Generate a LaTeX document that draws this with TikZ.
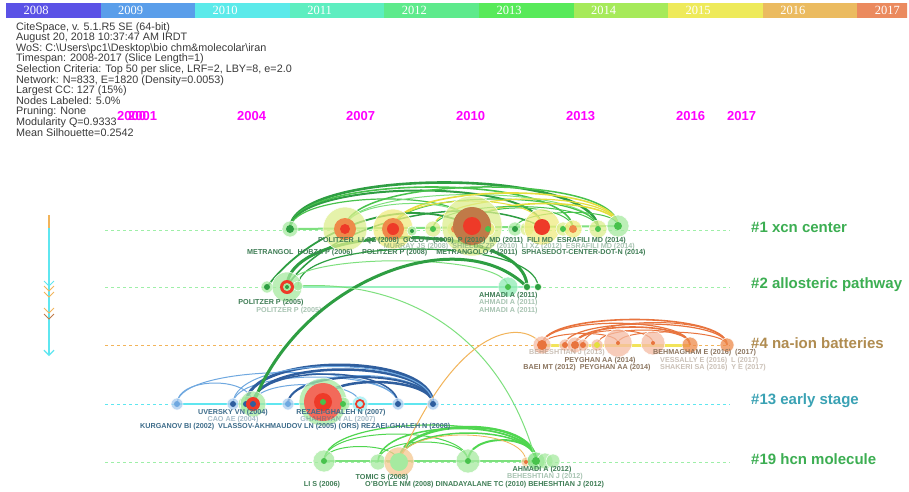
\documentclass[tikz,border=0pt]{standalone}
\usepackage{fontspec}
\setmainfont{Liberation Serif}
\setsansfont{Liberation Sans}
\usetikzlibrary{arrows.meta, backgrounds}

% year bar
\definecolor{yr2008}{HTML}{5B52E6}
\definecolor{yr2009}{HTML}{5A9EEA}
\definecolor{yr2010}{HTML}{5CEAEA}
\definecolor{yr2011}{HTML}{5EEEC0}
\definecolor{yr2012}{HTML}{5EEA8C}
\definecolor{yr2013}{HTML}{58EA5A}
\definecolor{yr2014}{HTML}{A6EA5A}
\definecolor{yr2015}{HTML}{EEEA5A}
\definecolor{yr2016}{HTML}{EBBB60}
\definecolor{yr2017}{HTML}{EB8A5E}
% text
\definecolor{infoGray}{HTML}{3A3A3A}
\definecolor{yearPink}{HTML}{FF00FF}
\definecolor{labG}{HTML}{3F7D55}
\definecolor{labB}{HTML}{3D6C8A}
\definecolor{labO}{HTML}{8C7660}
\definecolor{clG}{HTML}{3CAE52}
\definecolor{clO}{HTML}{B08C50}
\definecolor{clC}{HTML}{3AA2B4}
% nodes
\definecolor{haloG}{HTML}{A6EAA0}
\definecolor{haloYG}{HTML}{DDEE8E}
\definecolor{haloY}{HTML}{F0EC80}
\definecolor{haloMint}{HTML}{8EEBB4}
\definecolor{haloS}{HTML}{F5BCA4}
\definecolor{haloO}{HTML}{F5C890}
\definecolor{haloLB}{HTML}{A8CCF0}
\definecolor{haloC}{HTML}{9CEEF2}
\definecolor{ringO}{HTML}{EE8A4A}
\definecolor{coreR}{HTML}{EE3A28}
\definecolor{coreRL}{HTML}{F26A5A}
\definecolor{coreBr}{HTML}{C07A48}
% links
\definecolor{arcDG}{HTML}{2E9E42}
\definecolor{arcG}{HTML}{48C24C}
\definecolor{arcLG}{HTML}{7EE07E}
\definecolor{arcBr}{HTML}{50D650}
\definecolor{arcY}{HTML}{E4DE3E}
\definecolor{arcO}{HTML}{E8743E}
\definecolor{arcOr}{HTML}{F2B45A}
\definecolor{arcB}{HTML}{2F5E9E}
\definecolor{arcLB}{HTML}{6FA8E0}
\definecolor{lineG}{HTML}{9EEFA8}
\definecolor{lineMint}{HTML}{9AF0C0}
\definecolor{lineY}{HTML}{F2E45A}
\definecolor{lineC}{HTML}{5FE6F0}

\begin{document}
\begin{tikzpicture}[
    x=1pt, y=-1pt,
    halo/.style={circle, inner sep=0pt, fill=#1, fill opacity=0.75, draw=white, line width=0.5pt},
    core/.style={circle, inner sep=0pt, fill=#1},
    yearbox/.style={anchor=west, text=white, font=\fontsize{12.5}{12.5}\selectfont},
    yearmark/.style={anchor=west, inner sep=0pt, text=yearPink, font=\sffamily\bfseries\fontsize{13}{13}\selectfont},
    timeline/.style={#1, line width=0.8pt, dash pattern=on 3pt off 3pt},
    trunk/.style={#1, line width=2pt},
    cluster/.style={anchor=west, inner sep=0pt, text=#1, font=\sffamily\bfseries\fontsize{15}{15}\selectfont},
    author/.style={inner sep=0pt, text=#1, font=\sffamily\bfseries\fontsize{7.2}{7.2}\selectfont},
    faded/.style={text opacity=0.45}
    ]
    \useasboundingbox (0,0) rectangle (909,491);
    % year bar
    \begin{scope}
        \clip (0,0) rectangle (907,20);
        \foreach \i/\yr in {0/2008,1/2009,2/2010,3/2011,4/2012,5/2013,6/2014,7/2015,8/2016,9/2017} {
            \fill[yr\yr] (6+94.6*\i,3) rectangle ++(94.6,15);
            \node[yearbox] (bar\yr) at (6+94.6*\i+14,10.5) {\yr};
        }
    \end{scope}
    % header
    \node[anchor=north west, align=left, inner sep=0pt, text=infoGray,
          font=\sffamily\fontsize{10.8}{10.6}\selectfont] (info) at (16,22)
        {CiteSpace, v. 5.1.R5 SE (64-bit)\\
         August 20, 2018 10:37:47 AM IRDT\\
         WoS: C:\textbackslash Users\textbackslash pc1\textbackslash Desktop\textbackslash bio chm\&molecolar\textbackslash iran\\
         Timespan: 2008-2017 (Slice Length=1)\\
         Selection Criteria: Top 50 per slice, LRF=2, LBY=8, e=2.0\\
         Network: N=833, E=1820 (Density=0.0053)\\
         Largest CC: 127 (15\%)\\
         Nodes Labeled: 5.0\%\\
         Pruning: None\\
         Modularity Q=0.9333\\
         Mean Silhouette=0.2542};
    % time marks
    \foreach \x/\yr in {117/2000,128/2001,237/2004,346/2007,456/2010,566/2013,676/2016,727/2017} {
        \node[yearmark] (mark\yr) at (\x,116) {\yr};
    }
    % cluster labels
    \node[cluster=clG] (cl1) at (751,227) {\#1 xcn center};
    \node[cluster=clG] (cl2) at (751,285) {\#2 allosteric pathway};
    \node[cluster=clO] (cl4) at (751,343) {\#4 na-ion batteries};
    \node[cluster=clC] (cl13) at (751,401) {\#13 early stage};
    \node[cluster=clG] (cl19) at (751,459) {\#19 hcn molecule};

    % nodes
    % row 1
    \foreach \n/\x/\y/\r/\c in {a1/290/229/8/haloG, a2/345/229/22/haloYG, a3/393/229/20/haloY,
        a4/412/231/5/haloG, a5/433/229/8/haloYG, a6/455/229/8/haloY, a7/472/226/30/haloYG,
        a8/488/229/7/haloY, a9/515/229/7/haloG, a10/527/229/7/haloYG, a11/542/227/18/haloY,
        a12/563/229/7/haloYG, a13/573/229/9/haloY, a14/598/229/9/haloYG, a15/618/226/11/haloG} {
        \node[halo=\c, minimum size={2*\r pt}] (\n) at (\x,\y) {};
    }
    % row 2
    \foreach \n/\x/\y/\r/\c in {b1/267/287/6/haloG, b2/287/287/15/haloG, b3/298/286/5/haloG,
        b4/508/287/10/haloMint, b5/527/287/4/haloG, b6/538/287/4/haloG} {
        \node[halo=\c, minimum size={2*\r pt}] (\n) at (\x,\y) {};
    }
    % row 4
    \foreach \n/\x/\y/\r/\c in {d1/542/345/9/haloS, d2/565/345/6/haloS, d3/575/345/8/haloS,
        d4/583/345/6/haloS, d5/597/345/6/haloS, d6/618/343/14/haloS, d7/653/343/12/haloS,
        d8/690/345/8/ringO, d9/727/345/7/ringO} {
        \node[halo=\c, minimum size={2*\r pt}] (\n) at (\x,\y) {};
    }
    % row 13
    \foreach \n/\x/\y/\r/\c in {e1/177/404/6/haloLB, e2/233/404/6/haloLB, e3/246/404/8/haloG,
        e4/253/404/13/haloG, e5/288/404/6/haloLB, e6/323/402/24/haloG, e7/343/404/7/haloG,
        e8/360/404/8/haloC, e9/398/404/6/haloLB, e10/433/404/6/haloLB} {
        \node[halo=\c, minimum size={2*\r pt}] (\n) at (\x,\y) {};
    }
    % row 19
    \foreach \n/\x/\y/\r/\c in {f1/324/461/11/haloG, f2/378/462/8/haloG, f3/399/462/15/haloO,
        f4/468/461/12/haloG, f5/526/462/5/haloO, f6/536/461/9/arcLG, f7/545/461/8/haloG,
        f8/553/461/7/haloG} {
        \node[halo=\c, minimum size={2*\r pt}] (\n) at (\x,\y) {};
    }
    % rings inside
    \foreach \n/\r/\c in {a1/4/arcDG, a2/11/ringO, a2/5/coreR, a3/11/ringO, a3/6/coreR,
        a4/2/arcDG, a5/3/arcG, a6/4/ringO, a7/19/coreBr, a7/9/coreR, a8/3/arcG, a9/3/arcDG,
        a11/8/coreR, a12/3/arcG, a13/4/ringO, a14/3/arcG, a15/4/arcG,
        b1/3/arcDG, b2/7/coreR, b2/4/haloG, b2/2/arcDG, b4/3/arcG, b5/3/arcDG, b6/3/arcDG,
        d1/5/arcO, d2/3/arcO, d3/4/arcO, d4/3/arcO, d5/3/arcY, d6/2/arcO, d7/2/arcO,
        e1/3/arcLB, e2/3/arcB, e3/3/arcB, e4/7/coreR, e4/3/arcB, e5/3/arcLB, e6/19/coreRL,
        e6/9/coreR, e6/3/arcG, e7/3/arcG, e8/5/coreR, e8/3/haloC, e9/3/arcB, e10/3/arcB,
        f1/3/arcG, f3/9/haloG, f4/3/arcG, f5/2/arcO, f6/4/arcG} {
        \node[core=\c, minimum size={2*\r pt}] (\n-\r) at (\n) {};
    }

    % author labels
    % row 1
    \node[author=labG, anchor=west] (lab1a) at (318,241)
        {POLITZER \ LI QZ (2008) \ GOLO P (2009) \ P (2010) \ MD (2011) \ FILI MD \ ESRAFILI MD (2014)};
    \node[author=labG, anchor=east, faded] (lab1b) at (635,247)
        {MURRAY JS (2008) \ SHIELDS ZP (2010) \ LI XZ (2012) \ ESRAFILI MD (2014)};
    \node[author=labG, anchor=west] (lab1c) at (247,253)
        {METRANGOL \ HOBZA P (2006) \quad POLITZER P (2008) \quad METRANGOLO P (2011) \ SPHASEDOT-CENTER-DOT-N (2014)};
    % row 2
    \node[author=labG] (lab2a) at (271,303) {POLITZER P (2005)};
    \node[author=labG, faded] (lab2b) at (289,311) {POLITZER P (2005)};
    \node[author=labG, anchor=west] (lab2c) at (479,296) {AHMADI A (2011)};
    \node[author=labG, anchor=west, faded] (lab2d) at (479,303) {AHMADI A (2011)};
    \node[author=labG, anchor=west, faded] (lab2e) at (479,311) {AHMADI A (2011)};
    % row 4
    \node[author=labO, faded] (lab4a) at (567,353) {BEHESHTIAN J (2013)};
    \node[author=labO] (lab4b) at (600,361) {PEYGHAN AA (2014)};
    \node[author=labO] (lab4c) at (587,368) {BAEI MT (2012) \ PEYGHAN AA (2014)};
    \node[author=labO, anchor=west] (lab4d) at (653,353) {BEHMAGHAM E (2016) \ (2017)};
    \node[author=labO, anchor=west, faded] (lab4e) at (660,361) {VESSALLY E (2016) \ L (2017)};
    \node[author=labO, anchor=west, faded] (lab4f) at (660,368) {SHAKERI SA (2016) \ Y E (2017)};
    % row 13
    \node[author=labB] (lab13a) at (233,413) {UVERSKY VN (2004)};
    \node[author=labB, faded] (lab13b) at (233,420) {CAO AE (2004)};
    \node[author=labB] (lab13c) at (341,413) {REZAEI-GHALEH N (2007)};
    \node[author=labB, faded] (lab13d) at (338,420) {GHAHRYAN AL (2007)};
    \node[author=labB, anchor=west] (lab13e) at (140,427)
        {KURGANOV BI (2002) \ VLASSOV-AKHMAUDOV LN (2005) (ORS) REZAEI-GHALEH N (2008)};
    % row 19
    \node[author=labG] (lab19a) at (542,470) {AHMADI A (2012)};
    \node[author=labG, faded] (lab19b) at (545,477) {BEHESHTIAN J (2012)};
    \node[author=labG] (lab19c) at (382,478) {TOMIC S (2008)};
    \node[author=labG] (lab19d) at (322,485) {LI S (2006)};
    \node[author=labG, anchor=west] (lab19e) at (365,485)
        {O'BOYLE NM (2008) DINADAYALANE TC (2010) BEHESHTIAN J (2012)};

    \begin{scope}[on background layer]
        \fill[white] (0,0) rectangle (909,491);
        % timelines
        \foreach \r/\y/\c in {1/230/lineG, 2/287/lineG, 4/345/arcOr, 13/404/lineC, 19/462/lineG} {
            \coordinate (line\r-w) at (105,\y);
            \coordinate (line\r-e) at (730,\y);
            \draw[timeline=\c] (line\r-w) -- (line\r-e);
        }
        \draw[trunk=arcLG] (a1.center) -- (a15.center);
        \draw[trunk=lineMint] (b2.center) -- (b6.center);
        \draw[trunk=lineY, line width=3pt] (d1.center) -- (d8.center);
        \draw[trunk=lineC] (e1.center) -- (e10.center);
        \draw[trunk=arcLG] (f1.center) -- (f6.center);
        % links within clusters
        \foreach \s/\t/\h/\w/\c in {a1/a14/62/2.6/arcDG, a1/a13/56/1.6/arcG, a1/a11/50/2/arcDG,
            a1/a7/38/1.2/arcG, a2/a15/54/1.5/arcG, a2/a14/46/1/arcLG, a3/a15/46/1.6/arcY,
            a3/a14/40/1.2/arcG, a5/a15/38/1.2/arcY, a7/a15/30/1.6/arcY, a7/a13/26/1/arcG,
            a2/a7/32/1/arcLG, a3/a11/36/1/arcY, a9/a15/20/1/arcG, a5/a14/30/1/arcG,
            b2/b5/66/3/arcDG, b3/b6/50/1.2/arcDG, b2/b4/35/1/arcLG,
            d1/d9/34/1.6/arcO, d1/d8/29/1.2/arcO, d2/d9/28/1.2/arcO, d3/d8/24/1.6/arcO,
            d3/d7/18/1/arcO, d4/d9/30/1/arcO, d1/d6/14/1/arcO, d5/d8/20/1/arcO, d6/d9/16/1/arcO,
            e1/e9/42/1/arcLB, e1/e4/28/1/arcLB, e2/e9/36/1/arcLB, e5/e10/38/1/arcLB,
            e3/e10/52/3/arcB, e4/e10/46/2.5/arcB, e5/e10/36/2/arcB, e6/e10/28/2.5/arcB,
            e4/e9/40/1.5/arcB, e2/e10/50/1/arcLB, e4/e8/26/1/arcLB,
            f1/f6/48/1.2/arcBr, f1/f4/36/1/arcBr, f2/f6/44/1.5/arcBr, f3/f6/46/2.5/arcBr,
            f3/f6/38/1.5/arcBr, f4/f6/28/2/arcBr, f2/f4/26/1/arcBr, f3/f5/36/0.8/arcOr,
            f1/f3/20/1/arcBr} {
            \draw[line width=\w pt, \c] (\s.center) .. controls +(0,-\h) and +(0,-\h) .. (\t.center);
        }
        % links between clusters
        \draw[line width=1.8pt, arcDG] (b1.center) .. controls +(40,-55) and +(-70,-35) .. (a7.center);
        \draw[line width=1.5pt, arcDG] (b2.center) .. controls +(35,-60) and +(-80,-40) .. (a11.center);
        \draw[line width=3pt, arcDG] (e4.center) .. controls (300,280) and (460,220) .. (b5.center);
        \draw[line width=1pt, arcLG] (b3.center) .. controls (400,280) and (500,330) .. (f6.center);
        \draw[line width=1pt, arcOr] (d1.center) .. controls (525,320) and (460,320) .. (f3.center);
    \end{scope}

    % flow arrow
    \coordinate (flowtop) at (49,215);
    \coordinate (flowmid) at (49,228);
    \coordinate (flowend) at (49,356);
    \draw[arcOr, line width=1.2pt] (flowtop) -- (flowmid);
    \draw[lineC, line width=1.2pt, -{Straight Barb[length=5pt,width=10pt]}] (flowmid) -- (flowend);
    \foreach \y/\c in {286/lineC, 291/arcOr, 297/arcOr, 313/arcOr, 319/coreBr} {
        \draw[\c, line width=1pt] (44,\y-5) -- (49,\y) -- (54,\y-5);
    }
\end{tikzpicture}
\end{document}
